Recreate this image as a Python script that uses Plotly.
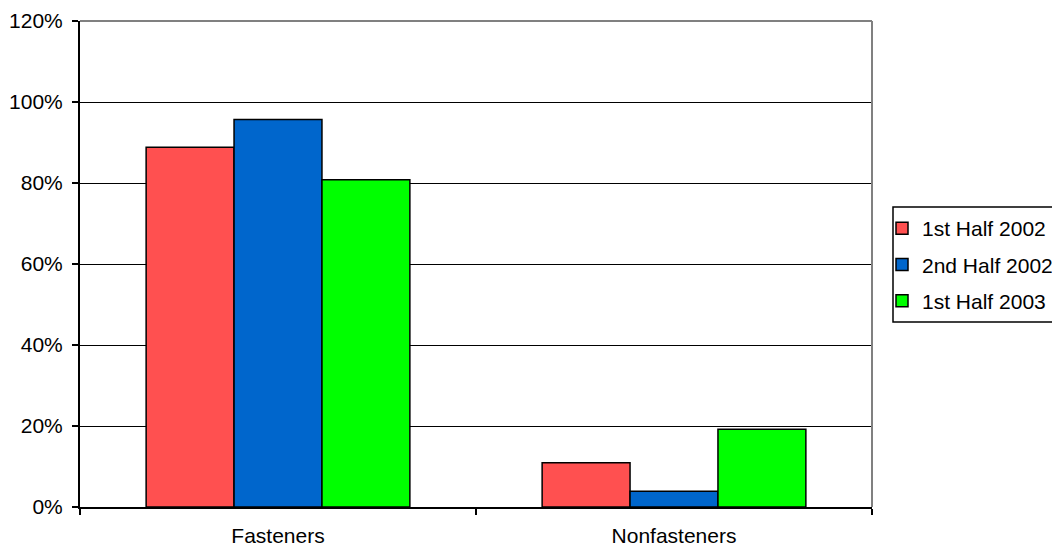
import plotly.graph_objects as go

categories = ["Fasteners", "Nonfasteners"]
series_names = ["1st Half 2002", "2nd Half 2002", "1st Half 2003"]
series_values = [
    [88.8, 10.9],
    [95.7, 3.9],
    [80.8, 19.2],
]
series_colors = ["#FF5050", "#0066CC", "#00FF00"]
y_ticks = [0, 20, 40, 60, 80, 100, 120]
y_tick_labels = ["0%", "20%", "40%", "60%", "80%", "100%", "120%"]

FONT = "Liberation Sans, Arial, sans-serif"
W, H = 1052, 548
L, R, T, B = 80, 180, 21, 41

fig = go.Figure()
for i, (name, vals, col) in enumerate(zip(series_names, series_values, series_colors)):
    fig.add_trace(go.Bar(
        x=categories, y=vals, name=name, legendgroup=f"g{i}",
        marker=dict(color=col, line=dict(color="black", width=1.5)),
    ))

pw = W - L - R
ph = H - T - B
def px2paper_x(px):
    return (px - L) / pw
def px2paper_y(py):
    return (H - B - py) / ph

fig.update_layout(
    width=W, height=H,
    margin=dict(l=L, r=R, t=T, b=B, pad=0, autoexpand=False),
    paper_bgcolor="white", plot_bgcolor="white",
    font=dict(family=FONT, size=21, color="black"),
    barmode="group", bargap=0.334, bargroupgap=0,
    showlegend=True,
    legend=dict(
        xref="container", yref="container",
        x=882 / W, y=1 - 208 / H, xanchor="left", yanchor="top",
        bgcolor="rgba(0,0,0,0)", borderwidth=0,
        font=dict(family=FONT, size=21, color="black"),
        tracegroupgap=6, traceorder="grouped",
    ),
    xaxis=dict(
        type="category", showgrid=False, showline=True, linecolor="black", linewidth=2,
        ticks="outside", tickson="boundaries", ticklen=6, tickcolor="black", tickwidth=2,
        ticklabelstandoff=9, range=[-0.5, 1.5], automargin=False,
    ),
    yaxis=dict(
        range=[0, 120], tickmode="array", tickvals=y_ticks, ticktext=y_tick_labels,
        showgrid=True, gridcolor="black", gridwidth=1,
        showline=True, linecolor="black", linewidth=2,
        ticks="outside", ticklen=6, tickcolor="black", tickwidth=2,
        ticklabelstandoff=5, zeroline=False, automargin=False,
    ),
    shapes=[
        dict(type="line", xref="paper", yref="paper", x0=0, x1=1, y0=1, y1=1,
             line=dict(color="#808080", width=2), layer="above"),
        dict(type="line", xref="paper", yref="paper", x0=1, x1=1, y0=0, y1=1,
             line=dict(color="#808080", width=2), layer="above"),
        dict(type="rect", xref="paper", yref="paper",
             x0=px2paper_x(893), x1=px2paper_x(1060),
             y0=px2paper_y(322), y1=px2paper_y(207),
             line=dict(color="black", width=1.5), layer="above"),
    ],
)

fig.write_html("out.html")
